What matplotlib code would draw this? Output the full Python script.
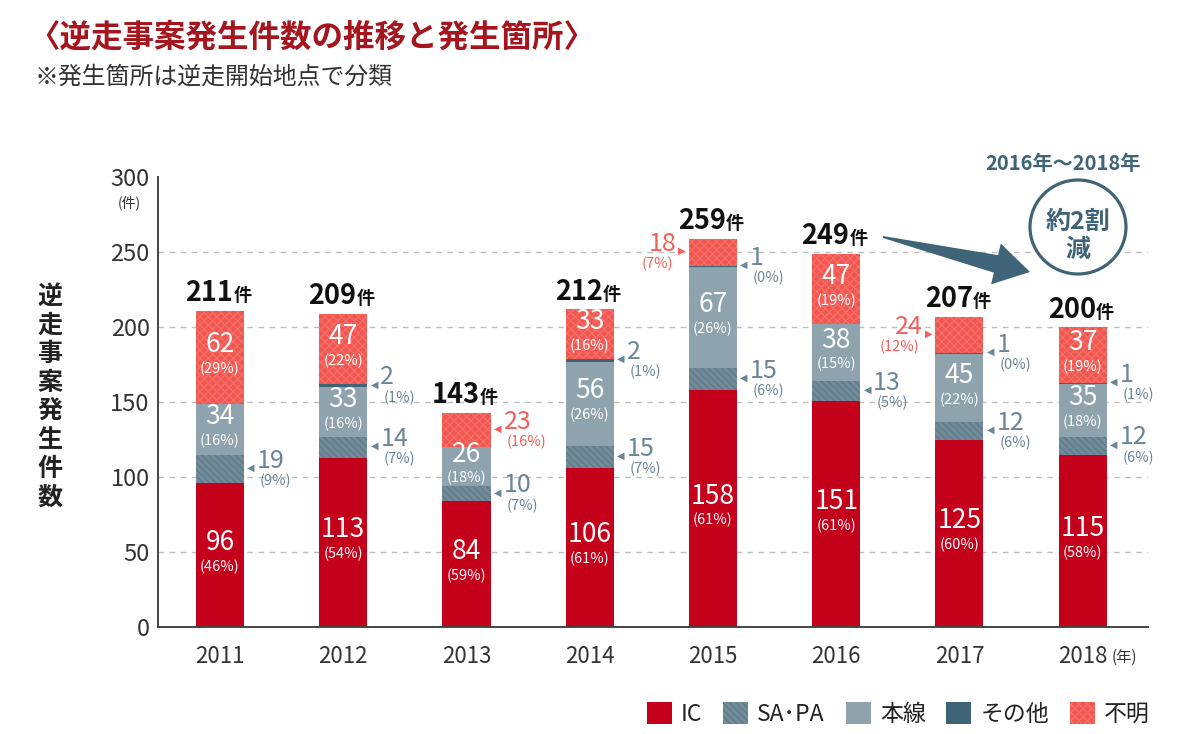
import matplotlib
matplotlib.use('Agg')
import matplotlib.pyplot as plt
from matplotlib.patches import Patch, Ellipse, Polygon
import numpy as np

plt.rcParams['font.family'] = ['Noto Sans CJK JP', 'DejaVu Sans']
plt.rcParams['hatch.linewidth'] = 0.9

# ---------------- data ----------------
years = ['2011', '2012', '2013', '2014', '2015', '2016', '2017', '2018']
ic = [96, 113, 84, 106, 158, 151, 125, 115]
sapa = [19, 14, 10, 15, 15, 13, 12, 12]
honsen = [34, 33, 26, 56, 67, 38, 45, 35]
sonota = [0, 2, 0, 2, 1, 0, 1, 1]
fumei = [62, 47, 23, 33, 18, 47, 24, 37]
totals = [211, 209, 143, 212, 259, 249, 207, 200]
ic_pct = [46, 54, 59, 61, 61, 61, 60, 58]
sapa_pct = [9, 7, 7, 7, 6, 5, 6, 6]
honsen_pct = [16, 16, 18, 26, 26, 15, 22, 18]
sonota_pct = [None, 1, None, 1, 0, None, 0, 1]
fumei_pct = [29, 22, 16, 16, 7, 19, 12, 19]
series_names = ['IC', 'SA･PA', '本線', 'その他', '不明']

# layout: where the 不明 label sits for small segments (index -> side)
fumei_outside = {2: 'right', 4: 'left', 6: 'left'}

# ---------------- style ----------------
C_IC = '#c5001a'
C_SAPA = '#718b9a'
C_SAPA_H = '#5e7886'
C_HON = '#8fa3af'
C_SON = '#3e6276'
C_FUM = '#f2564e'
C_FUM_H = '#f5706a'
C_SLATE_TXT = '#6a8596'
C_RED_TXT = '#f0605a'
C_DARK = '#3f6477'
TXT = '#333333'
HATCH_SAPA = '\\\\\\\\\\'
HATCH_FUM = 'xxxx'

W, H = 1200, 734
fig = plt.figure(figsize=(W / 100, H / 100), dpi=100)
ax = fig.add_axes([158 / W, 1 - 627 / H, 990 / W, 450 / H])

x = np.arange(len(years))
bw = 0.39
PX = 0.72  # points per pixel

b0 = np.zeros(len(years))
ax.bar(x, ic, bw, bottom=b0, color=C_IC, linewidth=0, zorder=2)
b1 = b0 + np.array(ic)
ax.bar(x, sapa, bw, bottom=b1, facecolor=C_SAPA, edgecolor=C_SAPA_H,
       hatch=HATCH_SAPA, linewidth=0, zorder=2)
b2 = b1 + np.array(sapa)
ax.bar(x, honsen, bw, bottom=b2, color=C_HON, linewidth=0, zorder=2)
b3 = b2 + np.array(honsen)
ax.bar(x, sonota, bw, bottom=b3, color=C_SON, linewidth=0, zorder=2)
b4 = b3 + np.array(sonota)
ax.bar(x, fumei, bw, bottom=b4, facecolor=C_FUM, edgecolor=C_FUM_H,
       hatch=HATCH_FUM, linewidth=0, zorder=2)

ax.set_xlim(-0.503, 7.53)
ax.set_ylim(0, 300)
ax.set_yticks([0, 50, 100, 150, 200, 250, 300])
ax.tick_params(axis='y', length=0, pad=6, labelsize=17, labelcolor=TXT)
ax.set_xticks(x, years)
ax.tick_params(axis='x', length=0, pad=13, labelsize=16, labelcolor=TXT)
for s in ['top', 'right']:
    ax.spines[s].set_visible(False)
for s in ['left', 'bottom']:
    ax.spines[s].set_color('#444444')
    ax.spines[s].set_linewidth(1.4)
for yv in [50, 100, 150, 200, 250]:
    ax.axhline(yv, color='#bdbdbd', lw=1.0, dashes=(4, 4), zorder=1)


def label_in(xi, y0, h, val, pct):
    yc = y0 + h / 2
    ax.annotate(str(val), (xi, yc), xytext=(0, 9), textcoords='offset points',
                ha='center', va='center', color='white', fontsize=19, zorder=5)
    ax.annotate(f'({pct}%)', (xi, yc), xytext=(0, -8.5), textcoords='offset points',
                ha='center', va='center', color='white', fontsize=10.5, zorder=5)


def label_side(xi, yc, val, pct, color, side):
    if side == 'right':
        xe, sg, tri, ha = xi + bw / 2, 1, '◀', 'left'
    else:
        xe, sg, tri, ha = xi - bw / 2, -1, '▶', 'right'
    ax.annotate(tri, (xe, yc), xytext=(sg * 7 * PX, 1 * PX), textcoords='offset points',
                ha='center', va='center', color=color, fontsize=7,
                family='DejaVu Sans', zorder=5)
    ax.annotate(str(val), (xe, yc), xytext=(sg * 13 * PX, 8 * PX), textcoords='offset points',
                ha=ha, va='center', color=color, fontsize=18, zorder=5)
    ax.annotate(f'({pct}%)', (xe, yc), xytext=(sg * 16 * PX, -12 * PX), textcoords='offset points',
                ha=ha, va='center', color=color, fontsize=10.5, zorder=5)


for i in range(len(years)):
    label_in(x[i], b0[i], ic[i], ic[i], ic_pct[i])
    label_side(x[i], b1[i] + sapa[i] / 2, sapa[i], sapa_pct[i], C_SLATE_TXT, 'right')
    label_in(x[i], b2[i], honsen[i], honsen[i], honsen_pct[i])
    if sonota[i] > 0 or sonota_pct[i] is not None:
        label_side(x[i], b3[i] + sonota[i] / 2, sonota[i], sonota_pct[i], C_SLATE_TXT, 'right')
    if i in fumei_outside:
        label_side(x[i], b4[i] + fumei[i] / 2, fumei[i], fumei_pct[i], C_RED_TXT, fumei_outside[i])
    else:
        label_in(x[i], b4[i], fumei[i], fumei[i], fumei_pct[i])
    ax.annotate(str(totals[i]), (x[i], totals[i]), xytext=(9.5, 6.5), textcoords='offset points',
                ha='right', va='baseline', fontsize=19.5, fontweight='bold', color='#111111')
    ax.annotate('件', (x[i], totals[i]), xytext=(9.5, 6.5), textcoords='offset points',
                ha='left', va='baseline', fontsize=13, fontweight='bold', color='#111111')

# (年) after last tick label
ax.annotate('(年)', (x[-1], 0), xytext=(29 * PX, -30 * PX), textcoords='offset points',
            ha='left', va='center', fontsize=11, color=TXT)
# (件) under 300
fig.text(129 / W, 1 - 203 / H, '(件)', ha='center', va='center', fontsize=10, color=TXT)

# vertical y label
for k, ch in enumerate('逆走事案発生件数'):
    fig.text(50 / W, 1 - (297 + k * 28.6) / H, ch, ha='center', va='center',
             fontsize=18, fontweight='bold', color='#222222')

# titles
fig.text(28 / W, 1 - 38 / H, '〈逆走事案発生件数の推移と発生箇所〉', ha='left', va='center',
         fontsize=22.7, fontweight='bold', color='#a5151d')
fig.text(35 / W, 1 - 77 / H, '※発生箇所は逆走開始地点で分類', ha='left', va='center',
         fontsize=17.2, color=TXT)

# arrow annotation (pixel layout)
def px2in(px, py):
    return (px / 100, (H - py) / 100)

start = np.array([883.0, 237.0])
tip = np.array([1030.0, 272.0])
u = (tip - start) / np.linalg.norm(tip - start)
nrm = np.array([-u[1], u[0]])
base = tip - 35 * u
pts = [start - 1 * nrm, base - 9 * nrm, base - 21 * nrm, tip, base + 21 * nrm,
       base + 9 * nrm, start + 1 * nrm]
poly = Polygon([px2in(*p) for p in pts], closed=True, facecolor=C_DARK, edgecolor='none',
               transform=fig.dpi_scale_trans)
fig.patches.append(poly)

circ = Ellipse(px2in(1078, 227), 0.96, 0.94, facecolor='white', edgecolor=C_DARK,
               linewidth=2.3, transform=fig.dpi_scale_trans)
fig.patches.append(circ)
fig.text(1078 / W, 1 - 222 / H, '約2割', ha='center', va='center', fontsize=18,
         fontweight='bold', color=C_DARK)
fig.text(1078 / W, 1 - 250 / H, '減', ha='center', va='center', fontsize=18,
         fontweight='bold', color=C_DARK)
fig.text(1063 / W, 1 - 163 / H, '2016年～2018年', ha='center', va='center', fontsize=14.5,
         fontweight='bold', color=C_DARK)

# legend
handles = [
    Patch(facecolor=C_IC, linewidth=0),
    Patch(facecolor=C_SAPA, edgecolor=C_SAPA_H, hatch=HATCH_SAPA, linewidth=0),
    Patch(facecolor=C_HON, linewidth=0),
    Patch(facecolor=C_SON, linewidth=0),
    Patch(facecolor=C_FUM, edgecolor=C_FUM_H, hatch=HATCH_FUM, linewidth=0),
]
fig.legend(handles, series_names, loc='center right', bbox_to_anchor=(1150 / W, 1 - 714 / H),
           ncol=5, frameon=False, fontsize=16.5, handlelength=1.1, handleheight=1.1,
           handletextpad=0.4, columnspacing=0.9, borderaxespad=0, borderpad=0,
           labelcolor='#222222')

fig.savefig('out.png', dpi=100, facecolor='white')
